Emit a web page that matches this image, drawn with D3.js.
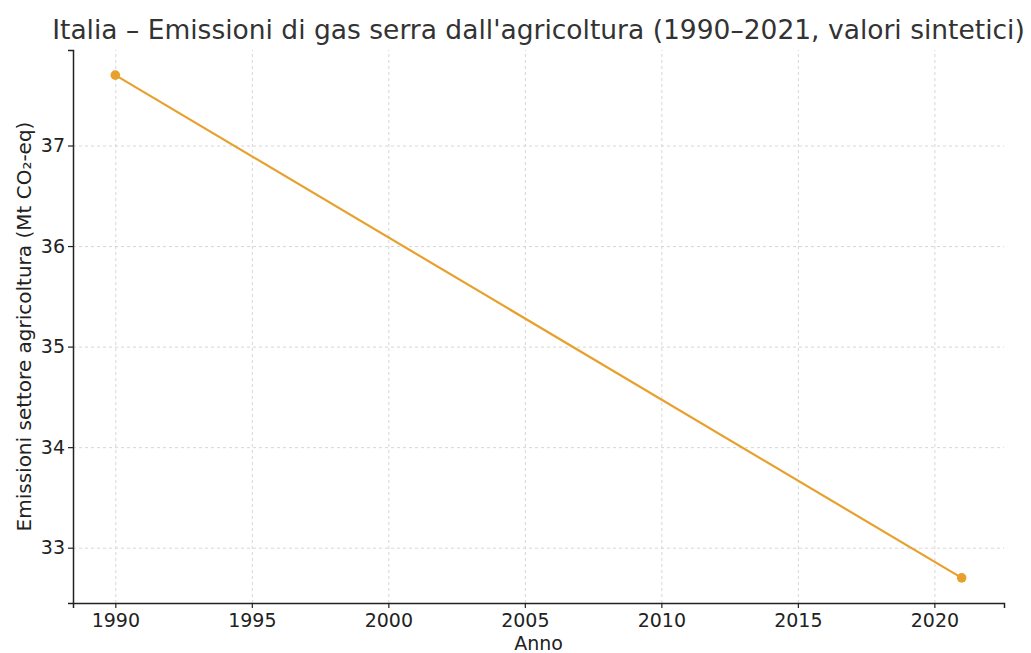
<!DOCTYPE html>
<html>
<head>
<meta charset="utf-8">
<script src="https://cdn.jsdelivr.net/npm/d3@7"></script>
<style>
  body { margin: 0; background: #fff; }
  svg { font-family: "DejaVu Sans", sans-serif; }
  .grid line { stroke: #ccc; stroke-dasharray: 3,3; stroke-width: 0.8; }
  .grid .domain { display: none; }
</style>
</head>
<body>
<div id="chart"></div>
<script>
const years = [1990, 2021];
const emissions = [37.7, 32.7];
const xTicks = [1990, 1995, 2000, 2005, 2010, 2015, 2020];
const yTicks = [33, 34, 35, 36, 37];

const width = 1031, height = 653;
const margin = { top: 50, right: 27, bottom: 50, left: 73 };

const svg = d3.select("#chart").append("svg")
  .attr("width", width)
  .attr("height", height);

const x = d3.scaleLinear()
  .domain([1988.45, 2022.55])
  .range([margin.left, width - margin.right]);

const y = d3.scaleLinear()
  .domain([32.45, 37.95])
  .range([height - margin.bottom, margin.top]);

// grid
svg.append("g")
  .attr("class", "grid")
  .attr("transform", `translate(0,${height - margin.bottom})`)
  .call(d3.axisBottom(x).tickValues(xTicks).tickSize(-(height - margin.top - margin.bottom)).tickFormat(""));

svg.append("g")
  .attr("class", "grid")
  .attr("transform", `translate(${margin.left},0)`)
  .call(d3.axisLeft(y).tickValues(yTicks).tickSize(-(width - margin.left - margin.right)).tickFormat(""));

// axes
const xAxis = svg.append("g")
  .attr("transform", `translate(0,${height - margin.bottom})`)
  .call(d3.axisBottom(x).tickValues(xTicks).tickFormat(d3.format("d")).tickSizeOuter(0).tickSize(5).tickPadding(6));

const yAxis = svg.append("g")
  .attr("transform", `translate(${margin.left},0)`)
  .call(d3.axisLeft(y).tickValues(yTicks).tickFormat(d3.format("d")).tickSizeOuter(0).tickSize(5).tickPadding(3));

[xAxis, yAxis].forEach(a => {
  a.attr("font-family", "DejaVu Sans").attr("font-size", 19);
  a.selectAll("text").attr("fill", "#222");
  a.selectAll("line").attr("stroke", "#222").attr("stroke-width", 1.2);
  a.select(".domain").attr("stroke", "#222").attr("stroke-width", 1.5);
});

// line
const pts = years.map((d, i) => ({ year: d, value: emissions[i] }));
svg.append("path")
  .datum(pts)
  .attr("fill", "none")
  .attr("stroke", "#E8A02D")
  .attr("stroke-width", 2.2)
  .attr("d", d3.line().x(d => x(d.year)).y(d => y(d.value)));

svg.selectAll(".dot")
  .data(pts)
  .enter().append("circle")
  .attr("cx", d => x(d.year))
  .attr("cy", d => y(d.value))
  .attr("r", 4.8)
  .attr("fill", "#E8A02D");

// labels
svg.append("text")
  .attr("x", (margin.left + width - margin.right) / 2)
  .attr("y", 39)
  .attr("text-anchor", "middle")
  .attr("font-size", 26.5)
  .attr("fill", "#333")
  .text("Italia – Emissioni di gas serra dall'agricoltura (1990–2021, valori sintetici)");

svg.append("text")
  .attr("x", (margin.left + width - margin.right) / 2)
  .attr("y", 650)
  .attr("text-anchor", "middle")
  .attr("font-size", 19)
  .attr("fill", "#222")
  .text("Anno");

svg.append("text")
  .attr("transform", `translate(31,${(margin.top + height - margin.bottom) / 2}) rotate(-90)`)
  .attr("text-anchor", "middle")
  .attr("font-size", 20)
  .attr("fill", "#222")
  .text("Emissioni settore agricoltura (Mt CO₂-eq)");
</script>
</body>
</html>
